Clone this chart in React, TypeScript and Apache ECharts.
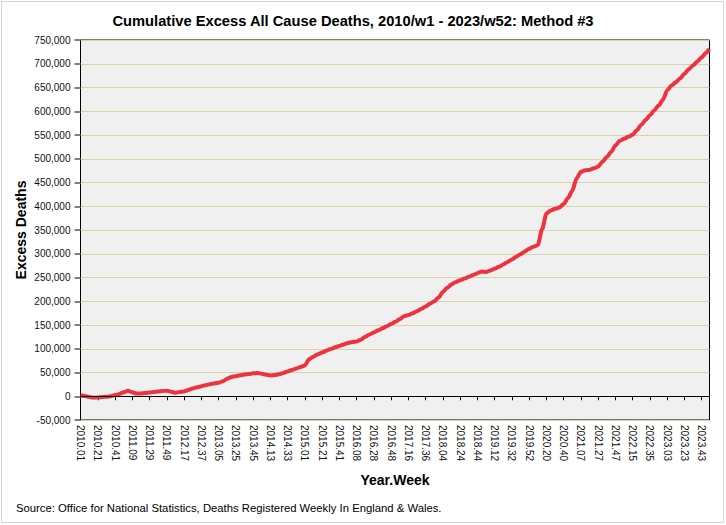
import React, { useEffect, useRef } from "react";
import * as echarts from "echarts";

// Years covered and their number of ISO weeks (2015 and 2020 have 53)
const years = [2010, 2011, 2012, 2013, 2014, 2015, 2016, 2017, 2018, 2019, 2020, 2021, 2022, 2023];
const weeksInYear = [52, 52, 52, 52, 52, 53, 52, 52, 52, 52, 53, 52, 52, 52];

// Cumulative excess deaths, every 5 weeks from 2010.01
const sampleStep = 5;
const cumulativeExcess = [
  2000, 300, -1400, -3100, -2700, -1800, -900, 0, 2400, 4800,
  8400, 11400, 8500, 5600, 5800, 6900, 8000, 9000, 9900, 10900,
  11800, 9500, 7400, 8800, 10200, 13400, 16400, 18700, 21000, 23300,
  25500, 27100, 28600, 31500, 36800, 40700, 42300, 44000, 45600, 46900,
  48200, 48900, 47200, 45500, 43800, 44500, 46200, 49200, 52300, 55300,
  58500, 61700, 65000, 78000, 83400, 88300, 92100, 95800, 99500, 102900,
  106000, 109100, 112200, 114100, 115200, 119200, 125200, 130200, 134400, 138700,
  143000, 147500, 152100, 156700, 162400, 168400, 171000, 174500, 179200, 183900,
  189100, 194600, 200000, 208000, 219600, 228500, 235600, 240600, 244200, 247800,
  251500, 255200, 259000, 262800, 261700, 264600, 268600, 272500, 277500, 282800,
  288100, 293500, 299100, 304900, 310700, 314700, 318200, 352000, 384600, 391100,
  394700, 397600, 404500, 417300, 432800, 459100, 472400, 475700, 476500, 480000,
  483500, 493500, 503600, 514300, 527900, 537700, 542000, 546300, 550600, 560600,
  571500, 581600, 591700, 601800, 612000, 624100, 644200, 654000, 661300, 669500,
  679000, 688400, 696800, 704900, 713600, 723300,
];
// value at the final week, 2023.52
const finalValue = 731000;

const titleText = "Cumulative Excess All Cause Deaths, 2010/w1 - 2023/w52: Method #3";
const xAxisName = "Year.Week";
const yAxisName = "Excess Deaths";
const sourceText = "Source: Office for National Statistics, Deaths Registered Weekly In England & Wales.";

const FONT = "'Liberation Sans', Arial, sans-serif";

function buildWeeks(): string[] {
  const out: string[] = [];
  years.forEach((y, i) => {
    for (let w = 1; w <= weeksInYear[i]; w++) {
      out.push(`${y}.${w < 10 ? "0" + w : w}`);
    }
  });
  return out;
}

export default function App() {
  const ref = useRef<HTMLDivElement>(null);

  useEffect(() => {
    if (!ref.current) return;
    const chart = echarts.init(ref.current, undefined, { renderer: "svg" });
    const weeks = buildWeeks();
    const data: [number, number][] = cumulativeExcess.map((v, i) => [i * sampleStep, v]);
    data.push([weeks.length - 1, finalValue]);

    chart.setOption({
      animation: false,
      backgroundColor: "#ffffff",
      grid: {
        left: 80.5,
        right: 16.5,
        top: 40,
        bottom: 105,
        show: true,
        backgroundColor: "#f0f0f0",
        borderColor: "#000000",
        borderWidth: 1,
      },
      graphic: [
        {
          type: "rect",
          shape: { x: 1.5, y: 1.5, width: 722, height: 521 },
          style: { fill: "none", stroke: "#d4d4d4", lineWidth: 1 },
          silent: true,
        },
        {
          type: "text",
          x: 353,
          y: 21,
          style: {
            text: titleText,
            textAlign: "center",
            textVerticalAlign: "middle",
            font: `bold 14.7px ${FONT}`,
            fill: "#000000",
          },
        },
        {
          type: "text",
          x: 16,
          y: 508,
          style: {
            text: sourceText,
            textAlign: "left",
            textVerticalAlign: "middle",
            font: `11.3px ${FONT}`,
            fill: "#000000",
          },
        },
      ],
      xAxis: {
        type: "category",
        data: weeks,
        boundaryGap: false,
        name: xAxisName,
        nameLocation: "middle",
        nameGap: 53,
        nameMoveOverlap: false,
        nameTextStyle: { fontFamily: FONT, fontSize: 14, fontWeight: "bold", color: "#000" },
        axisLine: { lineStyle: { color: "#000", width: 1 } },
        axisTick: { show: true, interval: 19, length: 4, lineStyle: { color: "#000" } },
        axisLabel: {
          interval: 19,
          rotate: -90,
          margin: 5,
          fontFamily: FONT,
          fontSize: 10,
          color: "#111",
        },
        splitLine: { show: false },
      },
      yAxis: {
        type: "value",
        min: -50000,
        max: 750000,
        interval: 50000,
        name: yAxisName,
        nameLocation: "middle",
        nameGap: 53,
        nameMoveOverlap: false,
        nameRotate: 90,
        nameTextStyle: { fontFamily: FONT, fontSize: 14, fontWeight: "bold", color: "#000" },
        axisLine: { show: true, lineStyle: { color: "#000", width: 1 } },
        axisTick: { show: true, length: 6, lineStyle: { color: "#808080", width: 2 } },
        axisLabel: {
          margin: 10,
          fontFamily: FONT,
          fontSize: 10,
          color: "#111",
          formatter: (v: number) => v.toLocaleString("en-US"),
        },
        splitLine: { show: true, lineStyle: { color: "#d9d3aa", width: 1 } },
      },
      series: [
        {
          type: "line",
          data,
          showSymbol: false,
          smooth: 0.25,
          smoothMonotone: "x",
          lineStyle: { color: "#ee3340", width: 4 },
          itemStyle: { color: "#ee3340" },
          markLine: {
            silent: true,
            symbol: "none",
            label: { show: false },
            lineStyle: { color: "#000", width: 1, type: "solid" },
            data: [{ yAxis: 0 }],
          },
          z: 3,
        },
      ],
    });
    return () => chart.dispose();
  }, []);

  return (
    <div
      ref={ref}
      style={{ position: "fixed", left: 0, top: 0, width: 726, height: 525 }}
    />
  );
}
